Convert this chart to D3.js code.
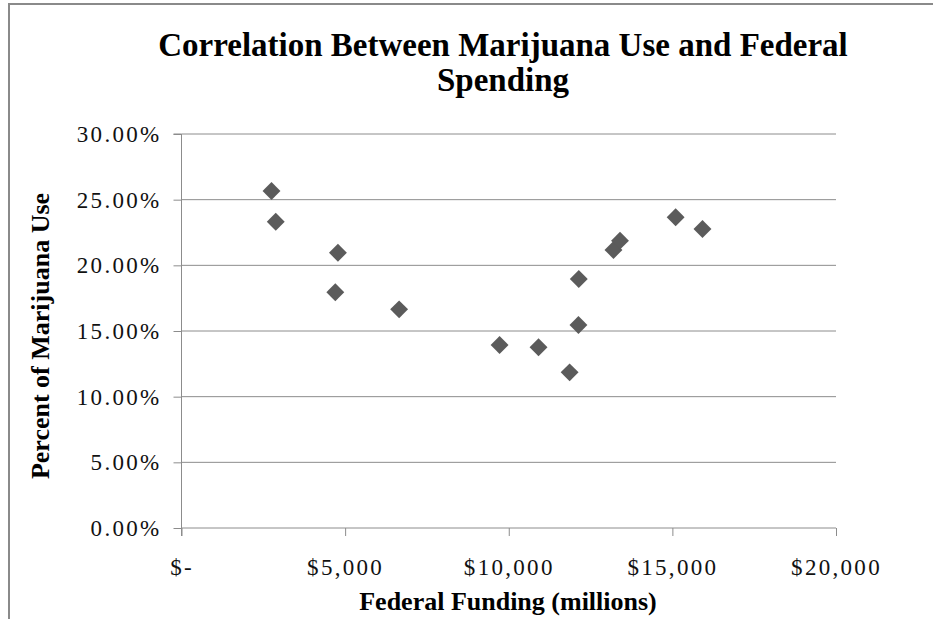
<!DOCTYPE html>
<html>
<head>
<meta charset="utf-8">
<script src="https://cdn.jsdelivr.net/npm/d3@7"></script>
<style>
  body { margin: 0; background: #fff; }
  svg { display: block; }
  .tick text { font-family: "Liberation Serif", "Times New Roman", serif; }
</style>
</head>
<body>
<div id="chart"></div>
<script>
// federal funding (millions of $) vs percent of marijuana use
const funding = [2750, 2880, 4780, 4700, 6650, 9720, 10910, 11860, 12130, 12140, 13200, 13400, 15100, 15920];
const usePct  = [0.2566, 0.2332, 0.2096, 0.1795, 0.1665, 0.1393, 0.1376, 0.1185, 0.1546, 0.1896, 0.2117, 0.2188, 0.2366, 0.2277];
const xTicks = [0, 5000, 10000, 15000, 20000];
const yTicks = [0, 0.05, 0.10, 0.15, 0.20, 0.25, 0.30];

const W = 933, H = 619;
const svg = d3.select('#chart').append('svg').attr('width', W).attr('height', H);

// chart area border (runs off right/bottom like the screenshot)
svg.append('rect')
  .attr('x', 9).attr('y', 4).attr('width', W + 20).attr('height', H + 20)
  .attr('fill', '#fff').attr('stroke', '#8a8a8a').attr('stroke-width', 2);

const x = d3.scaleLinear().domain([0, 20000]).range([181.5, 836]);
const y = d3.scaleLinear().domain([0, 0.30]).range([528, 134]);

// gridlines
svg.append('g').selectAll('line')
  .data(yTicks.slice(1))
  .enter().append('line')
    .attr('x1', x(0)).attr('x2', x(20000))
    .attr('y1', d => y(d)).attr('y2', d => y(d))
    .attr('stroke', '#8c8c8c').attr('stroke-width', 1);

const xAxis = d3.axisBottom(x).tickValues(xTicks).tickSize(8).tickPadding(23)
  .tickFormat(d => d === 0 ? '$-' : '$' + d3.format(',')(d));
const yAxis = d3.axisLeft(y).tickValues(yTicks).tickSize(8).tickPadding(12)
  .tickFormat(d3.format('.2%'));

const gx = svg.append('g').attr('transform', `translate(0,${y(0)})`).call(xAxis);
const gy = svg.append('g').attr('transform', `translate(${x(0)},0)`).call(yAxis);

[gx, gy].forEach(g => {
  g.select('.domain').attr('stroke', '#8c8c8c');
  g.selectAll('.tick line').attr('stroke', '#8c8c8c');
  g.selectAll('.tick text')
    .attr('fill', '#111')
    .style('font-size', '23px')
    .style('letter-spacing', '2.3px');
});
gy.select('.domain').attr('d', `M-8,${y(0.30)}H0V${y(0) + 8}`);
gx.select('.domain').attr('d', `M${x(0)},0H${x(20000)}`);

// points
svg.append('g').selectAll('path')
  .data(funding.map((f, i) => [f, usePct[i]]))
  .enter().append('path')
    .attr('d', d3.symbol().type(d3.symbolSquare).size(160))
    .attr('transform', d => `translate(${x(d[0])},${y(d[1])}) rotate(45)`)
    .attr('fill', '#5b5b5b');

// titles
const title = svg.append('text')
  .attr('text-anchor', 'middle')
  .style('font-family', '"Liberation Serif", "Times New Roman", serif')
  .style('font-weight', 'bold').style('font-size', '33px');
title.append('tspan').attr('x', 503).attr('y', 56).text('Correlation Between Marijuana Use and Federal');
title.append('tspan').attr('x', 503).attr('y', 91).text('Spending');

svg.append('text')
  .attr('x', 508).attr('y', 610)
  .attr('text-anchor', 'middle')
  .style('font-family', '"Liberation Serif", "Times New Roman", serif')
  .style('font-weight', 'bold').style('font-size', '26px')
  .text('Federal Funding (millions)');

svg.append('text')
  .attr('transform', 'translate(49,336) rotate(-90)')
  .attr('text-anchor', 'middle')
  .style('font-family', '"Liberation Serif", "Times New Roman", serif')
  .style('font-weight', 'bold').style('font-size', '26px')
  .text('Percent of Marijuana Use');
</script>
</body>
</html>
